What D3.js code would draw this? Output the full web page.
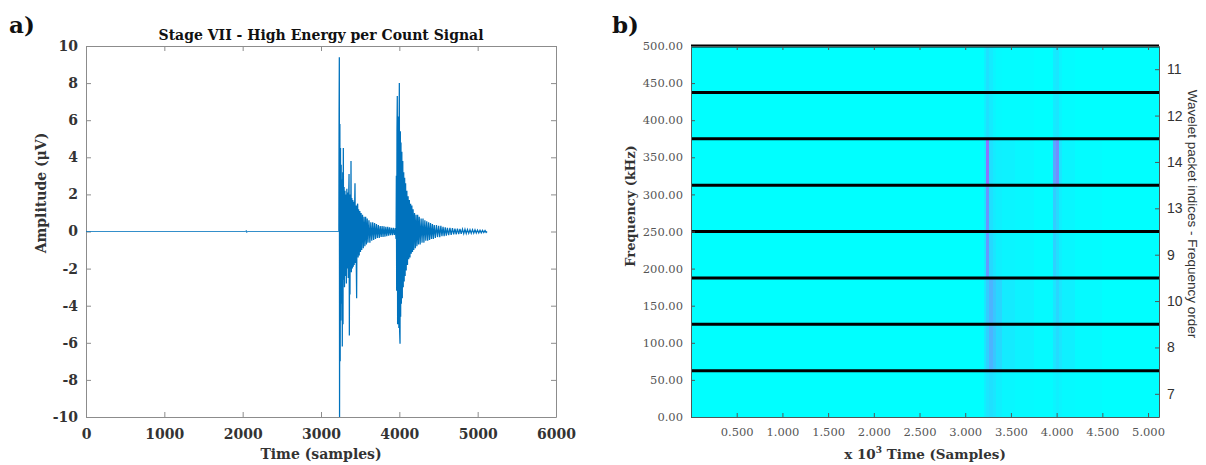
<!DOCTYPE html>
<html>
<head>
<meta charset="utf-8">
<script src="https://cdn.jsdelivr.net/npm/d3@7"></script>
<style>
  body { margin: 0; background: #fff; }
</style>
</head>
<body>
<div id="chart"></div>
<script>
/* ---- panel a) : AE signal, [sample, amplitude (uV)] ---- */
const BASELINE = [[0, 0], [2040, 0], [2046, 0.06], [2052, -0.06], [2058, 0], [3228, 0]];

const BURST_1 = [
  [3231, 6.5], [3234, 9.4], [3237, -10], [3241, 5.8], [3245, -7.0], [3249, 4.5], [3253, -4.8],
  [3258, 3.6], [3263, -3.9], [3268, 2.8], [3272, -6.2], [3277, 3.2], [3281, -5.0], [3285, 4.5],
  [3290, -2.6], [3295, 2.4], [3300, -3.0], [3306, 2.2], [3312, -2.4], [3318, 2.0], [3324, -2.8],
  [3330, 2.3], [3336, -2.0], [3342, 2.1], [3348, -2.5], [3354, 2.0], [3358, 3.1], [3362, -5.6],
  [3367, 2.0], [3370, -3.4], [3375, 1.9], [3379, -2.0], [3383, 3.8], [3388, -2.2], [3394, 1.8],
  [3400, -2.0], [3406, 1.7], [3412, -1.9], [3418, 1.6], [3424, -1.8], [3430, 1.5], [3434, 2.6],
  [3440, -1.7], [3446, 1.4], [3450, -1.6], [3455, -3.6], [3460, 1.3], [3468, 1.5], [3474, -1.4],
  [3480, 1.2], [3488, -1.3], [3496, 1.1], [3504, -1.1], [3512, 1.0], [3520, -1.0], [3530, 0.9],
  [3540, -0.9], [3550, 0.8], [3560, -0.8], [3570, 0.8], [3580, -0.7], [3590, 0.7], [3600, -0.6],
  [3612, 0.6], [3624, -0.6], [3636, 0.5], [3648, -0.5], [3660, 0.5], [3672, -0.45], [3684, 0.45],
  [3696, -0.4], [3708, 0.4], [3720, -0.35], [3732, 0.35], [3744, -0.35], [3756, 0.3], [3768, -0.3],
  [3780, 0.3], [3792, -0.3], [3804, 0.28], [3816, -0.28], [3828, 0.25], [3840, -0.25], [3852, 0.25],
  [3864, -0.22], [3876, 0.22], [3888, -0.2], [3900, 0.2], [3912, -0.2], [3924, 0.2], [3936, -0.18],
  [3948, 0.18]
];

const BURST_2 = [
  [3958, -0.4], [3962, 3.0], [3966, -3.2], [3970, 5.4], [3974, 7.3], [3978, -5.0], [3982, 5.0],
  [3986, -4.6], [3990, 6.2], [3994, -5.2], [3997, 5.4], [4000, 8.0], [4004, -5.4], [4009, -6.05],
  [4013, 5.4], [4017, -4.6], [4021, 4.8], [4026, -3.9], [4032, 4.3], [4038, -3.6], [4044, 3.8],
  [4050, -3.0], [4056, 3.2], [4062, -2.7], [4068, 2.9], [4074, -2.4], [4080, 2.6], [4088, -2.1],
  [4096, 2.2], [4104, -1.8], [4112, 1.9], [4120, -1.5], [4128, 1.7], [4136, -1.4], [4144, 1.5],
  [4152, -1.2], [4160, 1.4], [4168, -1.1], [4176, 1.2], [4184, -1.0], [4194, 1.0], [4204, -0.9],
  [4214, 0.9], [4224, -0.8], [4234, 0.9], [4244, -0.7], [4254, 0.8], [4266, -0.7], [4278, 0.7],
  [4290, -0.6], [4302, 0.7], [4314, -0.6], [4326, 0.6], [4338, -0.5], [4350, 0.55], [4362, -0.5],
  [4374, 0.5], [4386, -0.45], [4398, 0.45], [4410, -0.4], [4422, 0.4], [4434, -0.4], [4446, 0.35],
  [4460, -0.35], [4474, 0.35], [4488, -0.3], [4502, 0.3], [4516, -0.3], [4530, 0.3], [4544, -0.25],
  [4558, 0.25], [4572, -0.25], [4586, 0.22], [4600, -0.22], [4614, 0.2], [4630, -0.2], [4646, 0.2],
  [4662, -0.18], [4678, 0.18], [4694, -0.16], [4710, 0.16], [4726, -0.15], [4742, 0.15], [4758, -0.14],
  [4774, 0.14], [4790, -0.13], [4806, 0.13], [4822, -0.12], [4838, 0.12], [4854, -0.11], [4870, 0.11],
  [4886, -0.1], [4902, 0.1], [4918, -0.1], [4934, 0.1], [4950, -0.09], [4966, 0.09], [4982, -0.08],
  [4998, 0.08], [5014, -0.08], [5030, 0.07], [5046, -0.07], [5062, 0.06], [5078, -0.06], [5094, 0.05],
  [5108, -0.05], [5120, 0]
];

const TIME_TICKS = [0, 1000, 2000, 3000, 4000, 5000, 6000];
const AMP_TICKS = [-10, -8, -6, -4, -2, 0, 2, 4, 6, 8, 10];

/* ---- panel b) : wavelet packet energy map ---- */
// time column edges in x10^3 samples
const TIME_EDGES = [0, 3.20, 3.23, 3.26, 3.30, 3.34, 3.40, 3.55, 3.75, 3.96, 3.99, 4.03, 4.06, 4.20, 4.50, 5.12];
const FREQ_EDGES = [0, 62.5, 125, 187.5, 250, 312.5, 375, 437.5, 500];
const PACKET_IDS = [7, 8, 10, 9, 13, 14, 12, 11];   // bottom band to top band

// normalised energy per time column, one array per packet
const NODE_7  = [0, 0.06, 0.10, 0.12, 0.10, 0.06, 0.03, 0.02, 0.01, 0.04, 0.06, 0.04, 0.02, 0.01, 0];
const NODE_8  = [0, 0.10, 0.18, 0.30, 0.22, 0.15, 0.08, 0.05, 0.02, 0.10, 0.14, 0.10, 0.06, 0.02, 0];
const NODE_10 = [0, 0.10, 0.20, 0.30, 0.22, 0.16, 0.08, 0.05, 0.02, 0.10, 0.16, 0.10, 0.06, 0.02, 0];
const NODE_9  = [0, 0.10, 0.40, 0.15, 0.10, 0.06, 0.04, 0.03, 0.01, 0.18, 0.12, 0.06, 0.03, 0.01, 0];
const NODE_13 = [0, 0.10, 0.42, 0.12, 0.08, 0.06, 0.04, 0.03, 0.01, 0.20, 0.14, 0.06, 0.03, 0.01, 0];
const NODE_14 = [0, 0.08, 0.55, 0.12, 0.08, 0.06, 0.05, 0.03, 0.01, 0.35, 0.45, 0.10, 0.04, 0.01, 0];
const NODE_12 = [0, 0.06, 0.12, 0.08, 0.04, 0.02, 0.01, 0.01, 0, 0.08, 0.10, 0.04, 0.01, 0, 0];
const NODE_11 = [0, 0.06, 0.12, 0.08, 0.04, 0.02, 0.01, 0.01, 0, 0.08, 0.10, 0.04, 0.01, 0, 0];

const FREQ_TICKS = [0, 50, 100, 150, 200, 250, 300, 350, 400, 450, 500];
const SAMPLE_TICKS = [0.5, 1.0, 1.5, 2.0, 2.5, 3.0, 3.5, 4.0, 4.5, 5.0];

/* ---- setup ---- */
const WIDTH = 1206;
const HEIGHT = 465;
const SERIF = "'DejaVu Serif', serif";
const SANS = "'Liberation Sans', Arial, sans-serif";
const hyphenInt = d => String(d);   // plain "-" like the reference, not the unicode minus

const svg = d3.select('#chart').append('svg')
    .attr('width', WIDTH)
    .attr('height', HEIGHT)
    .style('background', '#fff');

/* ================= panel a ================= */
const A = { left: 86, right: 556, top: 46, bottom: 417 };
const xA = d3.scaleLinear().domain([0, 6000]).range([A.left, A.right]);
const yA = d3.scaleLinear().domain([-10, 10]).range([A.bottom, A.top]);

const pa = svg.append('g');

const styleAxisA = g => {
    g.select('.domain').attr('stroke', '#8c8c8c');
    g.selectAll('.tick line').attr('stroke', '#8c8c8c');
    g.selectAll('.tick text')
        .attr('fill', '#333')
        .style('font-family', SERIF)
        .style('font-weight', 'bold')
        .style('font-size', '14px');
};

pa.append('g').attr('transform', `translate(0,${A.bottom})`)
    .call(d3.axisBottom(xA).tickValues(TIME_TICKS).tickSize(-5).tickSizeOuter(0).tickPadding(12).tickFormat(hyphenInt))
    .call(styleAxisA);
pa.append('g').attr('transform', `translate(0,${A.top})`)
    .call(d3.axisTop(xA).tickValues(TIME_TICKS).tickSize(-5).tickSizeOuter(0).tickFormat(''))
    .call(styleAxisA);
pa.append('g').attr('transform', `translate(${A.left},0)`)
    .call(d3.axisLeft(yA).tickValues(AMP_TICKS).tickSize(-5).tickSizeOuter(0).tickPadding(8).tickFormat(hyphenInt))
    .call(styleAxisA);
pa.append('g').attr('transform', `translate(${A.right},0)`)
    .call(d3.axisRight(yA).tickValues(AMP_TICKS).tickSize(-5).tickSizeOuter(0).tickFormat(''))
    .call(styleAxisA);

const line = d3.line().x(d => xA(d[0])).y(d => yA(d[1]));

pa.append('path')
    .datum(BASELINE)
    .attr('d', line)
    .attr('fill', 'none')
    .attr('stroke', '#0072BD')
    .attr('stroke-width', 0.8);

pa.append('path')
    .datum([BASELINE[BASELINE.length - 1]].concat(BURST_1, BURST_2))
    .attr('d', line)
    .attr('fill', 'none')
    .attr('stroke', '#0072BD')
    .attr('stroke-width', 1.25)
    .attr('stroke-linejoin', 'miter');

pa.append('text')
    .attr('x', (A.left + A.right) / 2).attr('y', 40)
    .attr('text-anchor', 'middle')
    .style('font-family', SERIF).style('font-weight', 'bold').style('font-size', '14px')
    .attr('fill', '#111')
    .text('Stage VII - High Energy per Count Signal');

pa.append('text')
    .attr('x', (A.left + A.right) / 2).attr('y', 459)
    .attr('text-anchor', 'middle')
    .style('font-family', SERIF).style('font-weight', 'bold').style('font-size', '14px')
    .attr('fill', '#333')
    .text('Time (samples)');

pa.append('text')
    .attr('transform', 'translate(46,193) rotate(-90)')
    .attr('text-anchor', 'middle')
    .style('font-family', SERIF).style('font-weight', 'bold').style('font-size', '14px')
    .attr('fill', '#333')
    .text('Amplitude (\u03BCV)');

svg.append('text')
    .attr('x', 9).attr('y', 33)
    .style('font-family', SERIF).style('font-weight', 'bold').style('font-size', '23px')
    .attr('fill', '#111')
    .text('a)');

/* ================= panel b ================= */
const B = { left: 691, right: 1159, top: 46, bottom: 417 };
const xB = d3.scaleLinear().domain([0, 5.12]).range([B.left, B.right]);
const yB = d3.scaleLinear().domain([0, 500]).range([B.bottom, B.top]);
const colour = d3.scaleLinear().domain([0, 1]).range(['#00ffff', '#ff00ff']).interpolate(d3.interpolateRgb);

const pb = svg.append('g');
const ROWS = [NODE_7, NODE_8, NODE_10, NODE_9, NODE_13, NODE_14, NODE_12, NODE_11];

const cells = [];
ROWS.forEach((vals, r) => {
    vals.forEach((v, c) => {
        cells.push({ t0: TIME_EDGES[c], t1: TIME_EDGES[c + 1], f0: FREQ_EDGES[r], f1: FREQ_EDGES[r + 1], v: v });
    });
});

pb.append('g').selectAll('rect').data(cells).enter().append('rect')
    .attr('x', d => xB(d.t0))
    .attr('width', d => xB(d.t1) - xB(d.t0) + 0.4)
    .attr('y', d => yB(d.f1))
    .attr('height', d => yB(d.f0) - yB(d.f1))
    .attr('fill', d => colour(d.v))
    .attr('shape-rendering', 'crispEdges');

// black band separators
pb.append('g').selectAll('line').data(FREQ_EDGES.slice(1)).enter().append('line')
    .attr('x1', B.left).attr('x2', B.right)
    .attr('y1', d => yB(d)).attr('y2', d => yB(d))
    .attr('stroke', '#000')
    .attr('stroke-width', 3);

const styleAxisB = g => {
    g.select('.domain').attr('stroke', '#4d5a5a');
    g.selectAll('.tick line').attr('stroke', '#4d5a5a');
    g.selectAll('.tick text')
        .attr('fill', '#555')
        .style('font-family', SERIF)
        .style('font-size', '11.5px');
};

pb.append('g').attr('transform', `translate(0,${B.bottom})`)
    .call(d3.axisBottom(xB).tickValues(SAMPLE_TICKS).tickSize(-4).tickSizeOuter(0).tickPadding(11).tickFormat(d3.format('.3f')))
    .call(styleAxisB);
pb.append('g').attr('transform', `translate(0,${B.top})`)
    .call(d3.axisTop(xB).tickValues(SAMPLE_TICKS).tickSize(-4).tickSizeOuter(0).tickFormat(''))
    .call(styleAxisB);
pb.append('g').attr('transform', `translate(${B.left},0)`)
    .call(d3.axisLeft(yB).tickValues(FREQ_TICKS).tickSize(-4).tickSizeOuter(0).tickPadding(8).tickFormat(d3.format('.2f')))
    .call(styleAxisB);

// right axis: packet indices at band centres
const bandCentres = FREQ_EDGES.slice(0, -1).map((f, i) => (f + FREQ_EDGES[i + 1]) / 2);
const yRight = d3.axisRight(yB).tickValues(bandCentres).tickSize(-4).tickSizeOuter(0).tickPadding(8)
    .tickFormat((d, i) => PACKET_IDS[i]);
pb.append('g').attr('transform', `translate(${B.right},0)`)
    .call(yRight)
    .call(g => {
        g.select('.domain').attr('stroke', '#4d5a5a');
        g.selectAll('.tick line').attr('stroke', '#4d5a5a');
        g.selectAll('.tick text').attr('fill', '#333').style('font-family', SANS).style('font-size', '14px');
    });

pb.append('text')
    .attr('transform', 'translate(1188,214) rotate(90)')
    .attr('text-anchor', 'middle')
    .style('font-family', SANS).style('font-size', '13.5px')
    .attr('fill', '#333')
    .text('Wavelet packet indices - Frequency order');

pb.append('text')
    .attr('transform', 'translate(635,206) rotate(-90)')
    .attr('text-anchor', 'middle')
    .style('font-family', SERIF).style('font-weight', 'bold').style('font-size', '13px')
    .attr('fill', '#333')
    .text('Frequency (kHz)');

const xl = pb.append('text')
    .attr('x', (B.left + B.right) / 2).attr('y', 459)
    .attr('text-anchor', 'middle')
    .style('font-family', SERIF).style('font-weight', 'bold').style('font-size', '13.5px')
    .attr('fill', '#333');
xl.append('tspan').text('x 10');
xl.append('tspan').attr('dy', -6).style('font-size', '9px').text('3');
xl.append('tspan').attr('dy', 6).text(' Time (Samples)');

svg.append('text')
    .attr('x', 612).attr('y', 33)
    .style('font-family', SERIF).style('font-weight', 'bold').style('font-size', '23px')
    .attr('fill', '#111')
    .text('b)');
</script>
</body>
</html>
